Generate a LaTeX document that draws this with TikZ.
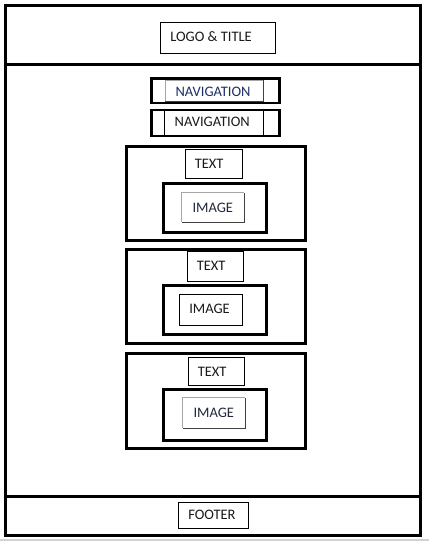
\documentclass[tikz,border=0pt]{standalone}
\usepackage{fontspec}
\setmainfont{Carlito}
\definecolor{navink}{HTML}{1C3066}
\definecolor{imgink}{HTML}{22283C}
\definecolor{textink}{HTML}{1A1A1A}
\definecolor{lightedge}{HTML}{A6A6A6}
\definecolor{darkedge}{HTML}{404040}
\begin{document}
\begin{tikzpicture}[x=1pt,y=-1pt,
  heavy/.style={draw=black,line width=3pt},
  medium/.style={draw=black,line width=2.8pt},
  thinbox/.style={draw=black,line width=0.9pt},
  label/.style={anchor=base west,inner sep=0pt,font=\fontsize{14.5}{16}\selectfont,text=textink},
  box/.style={rectangle,inner sep=0pt}
]
\useasboundingbox (0,0) rectangle (429,541);
\fill[white] (0,0) rectangle (429,541);
\draw[gray!35,line width=1.5pt] (0,540) -- (429,540);

% page regions
\path (5.5,5.5) coordinate (hdrA) (420.5,64.5) coordinate (hdrB);
\path (5.5,64.5) coordinate (bodyA) (420.5,496.5) coordinate (bodyB);
\path (5.5,496.5) coordinate (ftrA) (420.5,535.5) coordinate (ftrB);
\draw[heavy] (hdrA) rectangle (hdrB);
\draw[heavy] (bodyA) rectangle (bodyB);
\draw[heavy] (ftrA) rectangle (ftrB);

% header
\node[box,thinbox,minimum width=115pt,minimum height=31pt] (logo) at (217.5,37.5) {};
\node[label] (logot) at ([xshift=10.5pt,yshift=-19.5pt]logo.north west) {LOGO \& TITLE};

% navigation bars
\node[box,medium,minimum width=128pt,minimum height=24.7pt] (nav1) at (215.5,90.7) {};
\node[box,minimum width=98pt,minimum height=21pt] (nav1in) at (214.5,91) {};
\draw[lightedge,line width=0.9pt] (nav1in.south west) -- (nav1in.north west) -- (nav1in.north east);
\draw[darkedge,line width=0.9pt] (nav1in.north east) -- (nav1in.south east) -- (nav1in.south west);
\node[label,text=navink] (nav1t) at ([xshift=10pt,yshift=-16.5pt]nav1in.north west) {NAVIGATION};

\node[box,medium,minimum width=128pt,minimum height=26pt] (nav2) at (215.5,123) {};
\coordinate (nav2l) at (164.5,123);
\coordinate (nav2r) at (263.5,123);
\draw[black,line width=0.9pt] (nav2l |- nav2.north) -- (nav2l |- nav2.south);
\draw[black,line width=0.9pt] (nav2r |- nav2.north) -- (nav2r |- nav2.south);
\node[label] (nav2t) at ([xshift=10pt,yshift=-18pt]nav2l |- nav2.north) {NAVIGATION};

% content sections
\node[box,heavy,minimum width=179pt,minimum height=94pt] (sec1) at (216,193.5) {};
\node[box,thinbox,minimum width=57pt,minimum height=29pt] (txt1) at (213.5,163.5) {};
\node[label] (txt1t) at ([xshift=10pt,yshift=-19.5pt]txt1.north west) {TEXT};
\node[box,heavy,minimum width=103pt,minimum height=49pt] (frm1) at (215,208) {};
\node[box,minimum width=62pt,minimum height=29pt] (img1) at (213,207.5) {};
\draw[lightedge,line width=0.9pt] (img1.south west) -- (img1.north west) -- (img1.north east);
\draw[darkedge,line width=0.9pt] (img1.north east) -- (img1.south east) -- (img1.south west);
\node[label,text=imgink] (img1t) at ([xshift=10.5pt,yshift=-19.5pt]img1.north west) {IMAGE};

\node[box,heavy,minimum width=179pt,minimum height=94pt] (sec2) at (216,296.5) {};
\node[box,thinbox,minimum width=56pt,minimum height=30pt] (txt2) at (215,266) {};
\node[label] (txt2t) at ([xshift=10pt,yshift=-19.5pt]txt2.north west) {TEXT};
\node[box,heavy,minimum width=103pt,minimum height=49pt] (frm2) at (215,310) {};
\node[box,thinbox,minimum width=63pt,minimum height=31pt] (img2) at (210.5,309.5) {};
\node[label] (img2t) at ([xshift=10.5pt,yshift=-20pt]img2.north west) {IMAGE};

\node[box,heavy,minimum width=179pt,minimum height=95pt] (sec3) at (216,401) {};
\node[box,thinbox,minimum width=56pt,minimum height=28pt] (txt3) at (216,371) {};
\node[label] (txt3t) at ([xshift=10pt,yshift=-19.5pt]txt3.north west) {TEXT};
\node[box,heavy,minimum width=103pt,minimum height=51pt] (frm3) at (215,415) {};
\node[box,minimum width=62pt,minimum height=30pt] (img3) at (214,413) {};
\draw[lightedge,line width=0.9pt] (img3.south west) -- (img3.north west) -- (img3.north east);
\draw[darkedge,line width=0.9pt] (img3.north east) -- (img3.south east) -- (img3.south west);
\node[label,text=imgink] (img3t) at ([xshift=10.5pt,yshift=-19.5pt]img3.north west) {IMAGE};

% footer
\node[box,thinbox,minimum width=70pt,minimum height=26pt] (foot) at (213,515) {};
\node[label] (foott) at ([xshift=10.5pt,yshift=-18pt]foot.north west) {FOOTER};
\end{tikzpicture}
\end{document}
